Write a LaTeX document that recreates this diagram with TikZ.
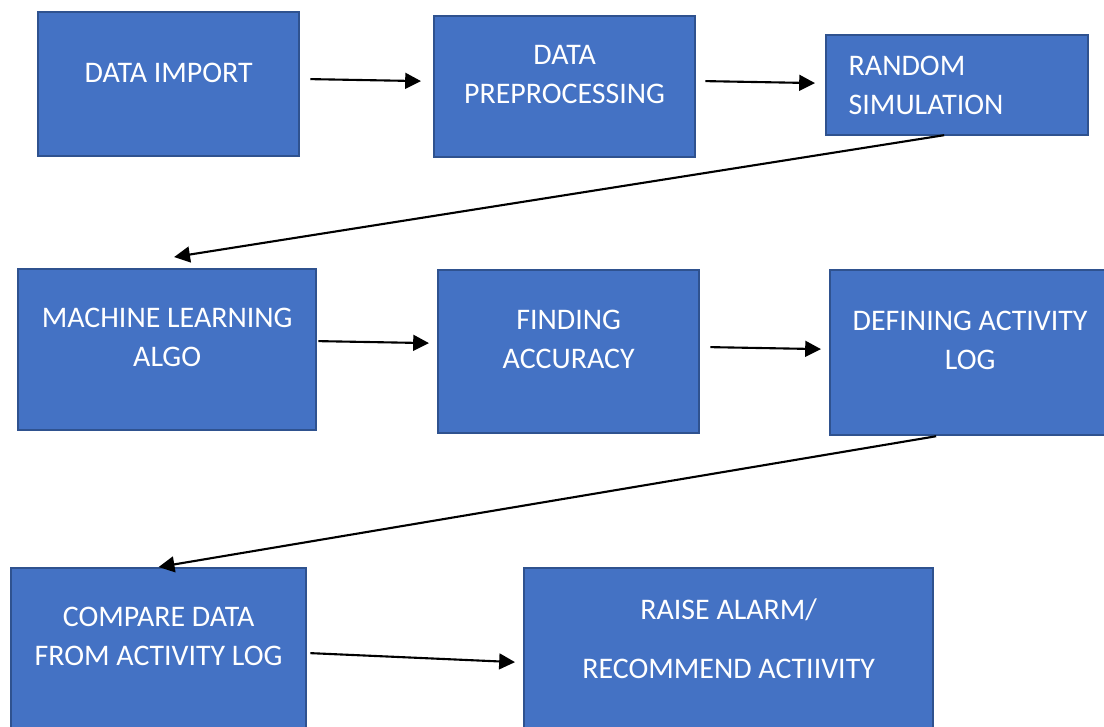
\documentclass[tikz,border=0pt]{standalone}
\usepackage{fontspec}
\setmainfont{Carlito}
\usepackage{tikz}
\usetikzlibrary{arrows.meta,calc}

\definecolor{boxfill}{HTML}{4472C4}
\definecolor{boxline}{HTML}{2F528F}

\begin{document}
\begin{tikzpicture}[
    x=0.01cm, y=-0.01cm,
    box/.style={draw=boxline, fill=boxfill, line width=0.6pt, anchor=north west, inner sep=0pt},
    lbl/.style={anchor=center, text=white, align=center, font=\fontsize{8.5}{11.1}\selectfont},
    arrow/.style={-{Triangle[length=4.5pt, width=4.5pt]}, line width=0.6pt, draw=black}
]
    \useasboundingbox (0,0) rectangle (1104,726);

    % First row: import -> preprocessing -> simulation
    \node[box, minimum width=2.61cm, minimum height=1.44cm,
          label={[lbl, yshift=-0.62cm]north:DATA IMPORT}] (imp) at (37,11) {};
    \node[box, minimum width=2.61cm, minimum height=1.41cm,
          label={[lbl, yshift=-0.595cm]north:DATA\\PREPROCESSING}] (pre) at (433,15) {};
    \node[box, minimum width=2.62cm, minimum height=1.00cm,
          label={[lbl, anchor=west, align=left, inner sep=0pt, xshift=0.23cm, yshift=-0.005cm]west:RANDOM\\SIMULATION}] (rnd) at (825,34) {};

    % Second row: model, accuracy, activity log
    \node[box, minimum width=2.98cm, minimum height=1.61cm,
          label={[lbl, yshift=-0.695cm]north:MACHINE LEARNING\\ALGO}] (ml) at (17,268) {};
    \node[box, minimum width=2.61cm, minimum height=1.63cm,
          label={[lbl, yshift=-0.705cm]north:FINDING\\ACCURACY}] (acc) at (437,269) {};
    \node[box, minimum width=2.77cm, minimum height=1.65cm,
          label={[lbl, xshift=0.015cm, yshift=-0.71cm]north:DEFINING ACTIVITY\\LOG}] (def) at (829,269) {};

    % Third row: comparison and alarm
    \node[box, minimum width=2.95cm, minimum height=1.70cm,
          label={[lbl, yshift=-0.695cm]north:COMPARE DATA\\FROM ACTIVITY LOG}] (cmp) at (10,567) {};
    \node[box, minimum width=4.09cm, minimum height=1.70cm,
          label={[lbl, yshift=-0.715cm]north:RAISE ALARM/\\[5.8pt]RECOMMEND ACTIIVITY}] (alm) at (523,567) {};

    % connectors
    \draw[arrow] ([shift={(10,-5)}]imp.east) -- ([shift={(-12,-5.5)}]pre.west);
    \draw[arrow] ([shift={(9,-5.5)}]pre.east) -- ([shift={(-10,-2)}]rnd.west);
    \draw[arrow] ([shift={(-13,-1)}]rnd.south) -- ([shift={(7,-11)}]ml.north);
    \draw[arrow] ([shift={(1,-8.5)}]ml.east) -- ([shift={(-8,-8.5)}]acc.west);
    \draw[arrow] ([shift={(10,-4.5)}]acc.east) -- ([shift={(-8,-3.5)}]def.west);
    \draw[arrow] ([shift={(-32.5,0)}]def.south) -- (cmp.north);
    \draw[arrow] ([shift={(3,0)}]cmp.east) -- ([shift={(-8,9)}]alm.west);

\end{tikzpicture}
\end{document}
